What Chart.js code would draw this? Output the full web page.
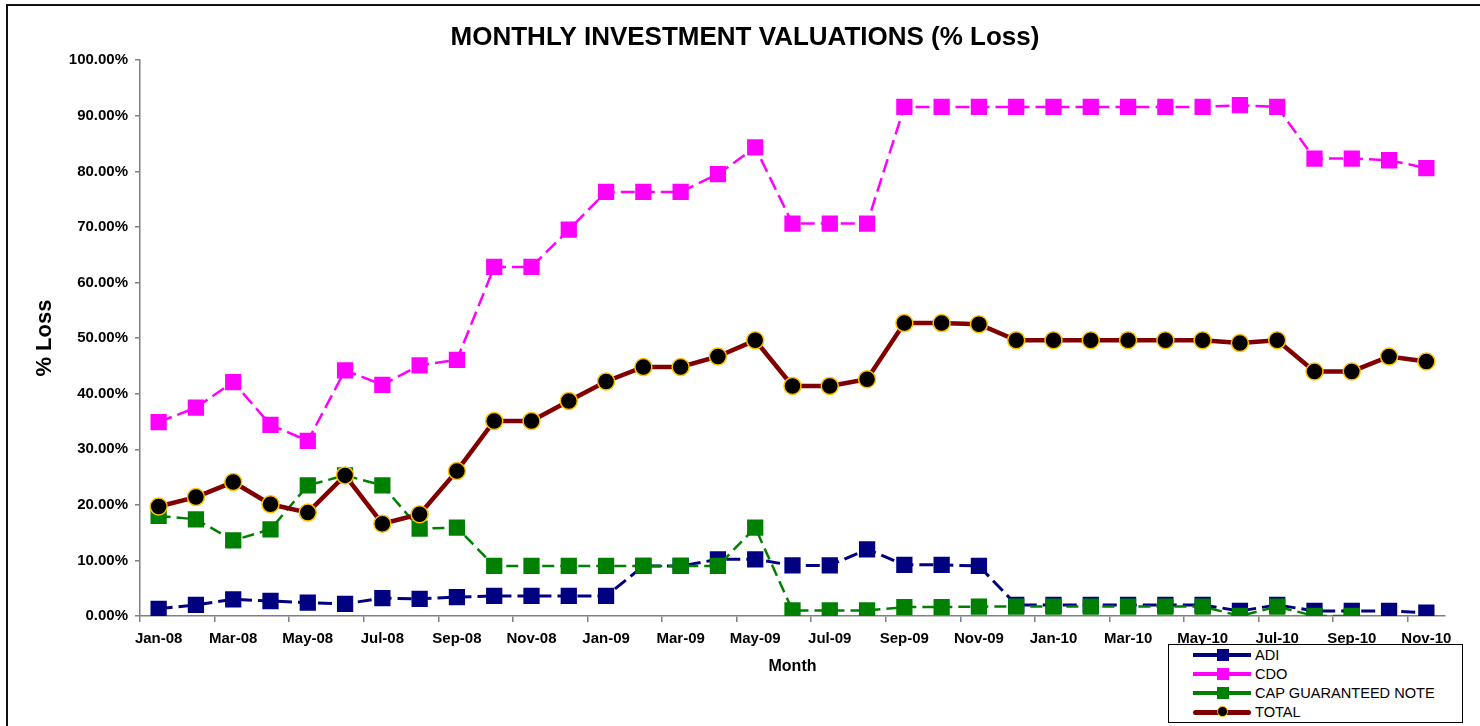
<!DOCTYPE html>
<html><head><meta charset="utf-8">
<script src="https://cdn.jsdelivr.net/npm/chart.js@4.4.0/dist/chart.umd.min.js"></script>
<style>
html,body{margin:0;padding:0;background:#fff;}
#wrap{position:relative;width:1480px;height:726px;overflow:hidden;background:#fff;}
#c{position:absolute;left:0;top:0;}
#frame{position:absolute;left:6px;top:4px;width:1500px;height:800px;border-left:2px solid #111;border-top:2px solid #111;pointer-events:none;}
#legend{position:absolute;left:1168px;top:644px;width:293px;height:77px;border:1px solid #000;background:#fff;font:14.6px "Liberation Sans",Arial,sans-serif;color:#000;}
.row{position:absolute;left:0;width:293px;height:19px;}
.ln{position:absolute;left:24px;width:58px;}
.mk{position:absolute;}
.tx{position:absolute;left:86px;top:1px;line-height:19px;white-space:nowrap;}
</style>
</head><body>
<div id="wrap">
<canvas id="c" width="1480" height="726"></canvas>
<div id="frame"></div>
<div id="legend"></div>
</div>
<script>
const months = ['Jan-08','Feb-08','Mar-08','Apr-08','May-08','Jun-08','Jul-08','Aug-08','Sep-08','Oct-08','Nov-08','Dec-08',
'Jan-09','Feb-09','Mar-09','Apr-09','May-09','Jun-09','Jul-09','Aug-09','Sep-09','Oct-09','Nov-09','Dec-09',
'Jan-10','Feb-10','Mar-10','Apr-10','May-10','Jun-10','Jul-10','Aug-10','Sep-10','Oct-10','Nov-10'];
const adi = [1.3,2.0,3.0,2.7,2.4,2.2,3.2,3.1,3.4,3.6,3.6,3.6,3.6,9.0,9.0,10.2,10.2,9.1,9.1,12.0,9.2,9.2,9.0,2.0,2.0,2.0,2.0,2.0,2.0,0.9,2.0,0.9,0.9,0.9,0.6];
const cdo = [34.9,37.5,42.1,34.4,31.5,44.2,41.6,45.1,46.1,62.8,62.8,69.5,76.3,76.3,76.3,79.5,84.3,70.6,70.6,70.6,91.6,91.6,91.6,91.6,91.6,91.6,91.6,91.6,91.6,91.9,91.6,82.3,82.3,82.0,80.6];
const capNote = [18.0,17.4,13.6,15.6,23.5,25.3,23.5,15.7,15.9,9.0,9.0,9.0,9.0,9.0,9.0,9.0,15.9,1.0,1.0,1.0,1.6,1.6,1.7,1.7,1.7,1.7,1.7,1.7,1.7,0,1.7,0,0,null,null];
const total = [19.7,21.4,24.1,20.1,18.6,25.3,16.6,18.3,26.1,35.1,35.1,38.7,42.2,44.8,44.8,46.7,49.6,41.4,41.4,42.6,52.7,52.7,52.5,49.6,49.6,49.6,49.6,49.6,49.6,49.1,49.6,44.0,44.0,46.7,45.8];
const seriesNames = ['ADI','CDO','CAP GUARANTEED NOTE','TOTAL'];
const yTicks = [0,10,20,30,40,50,60,70,80,90,100];

const FONT = '"Liberation Sans", Arial, sans-serif';
const NAVY='#000080', MAG='#FF00FF', GRN='#008000', MAROON='#800000', GOLD='#FFC000';

function sq(color, data, label, dash, width, order){
  return {label, data, borderColor:color, backgroundColor:color, borderWidth:width, borderDash:dash,
    pointStyle:'rect', pointRadius:11.5, pointHoverRadius:11.5, pointBackgroundColor:color,
    pointBorderColor:color, pointBorderWidth:0, tension:0, order, spanGaps:false};
}
const datasets = [
  sq(NAVY, adi, seriesNames[0], [14,6], 3, 2),
  sq(MAG, cdo, seriesNames[1], [14,6], 2.5, 3),
  sq(GRN, capNote, seriesNames[2], [12,6], 2.5, 1),
  {label:seriesNames[3], data:total, borderColor:MAROON, backgroundColor:'#000', borderWidth:4.5,
   pointStyle:'circle', pointRadius:8.5, pointHoverRadius:8.5, pointBackgroundColor:'#000',
   pointBorderColor:GOLD, pointBorderWidth:1.5, tension:0, order:0}
];

new Chart(document.getElementById('c'), {
  type:'line',
  data:{labels:months, datasets},
  options:{
    responsive:false, animation:false, devicePixelRatio:1,
    layout:{padding:{left:10,right:0,top:0,bottom:0}},
    plugins:{
      legend:{display:false}, tooltip:{enabled:false},
      title:{display:true, text:'MONTHLY INVESTMENT VALUATIONS (% Loss)', color:'#000',
        font:{family:FONT, size:26, weight:'bold', lineHeight:1.2}, padding:{top:22, bottom:7}}
    },
    scales:{
      x:{
        offset:true,
        grid:{offset:true, drawOnChartArea:false, drawTicks:true, tickLength:6,
          color:(ctx)=> (ctx.index!==undefined && ctx.index%2===0) ? '#808080' : 'rgba(0,0,0,0)', lineWidth:1.5},
        border:{display:true, color:'#808080', width:1.5},
        ticks:{autoSkip:false, maxRotation:0, minRotation:0, color:'#000', padding:8,
          font:{family:FONT, size:15, weight:'bold'},
          callback:function(v,i){ return i%2===0 ? this.getLabelForValue(v) : ''; }},
        title:{display:true, text:'Month', color:'#000', font:{family:FONT, size:16, weight:'bold', lineHeight:1.2}, padding:{top:4,bottom:50}},
        afterFit:(s)=>{ s.height = 110; }
      },
      y:{
        min:0, max:100,
        afterBuildTicks:(s)=>{ s.ticks = yTicks.map(v=>({value:v})); },
        grid:{drawOnChartArea:false, drawTicks:true, tickLength:5, color:'#808080', lineWidth:1.5},
        border:{display:true, color:'#808080', width:1.5},
        ticks:{color:'#000', padding:7, font:{family:FONT, size:15, weight:'bold'},
          callback:(v)=> v.toFixed(2)+'%'},
        title:{display:true, text:'% Loss', color:'#000', font:{family:FONT, size:22, weight:'bold', lineHeight:1.2}, padding:{top:22,bottom:0}},
        afterFit:(s)=>{ s.width = 130; }
      },
      yR:{
        position:'right', display:true, min:0, max:100,
        grid:{display:false, drawTicks:false}, border:{display:false},
        ticks:{display:false}, afterFit:(s)=>{ s.width = 35; }
      }
    }
  }
});

// HTML legend
const legend = document.getElementById('legend');
const legendStyles = [
  {c:NAVY, lw:4, m:'sq'}, {c:MAG, lw:4, m:'sq'}, {c:GRN, lw:4, m:'sq'}, {c:MAROON, lw:5, m:'ci'}
];
seriesNames.forEach((name,i)=>{
  const st = legendStyles[i];
  const row = document.createElement('div'); row.className='row'; row.style.top = (i*19)+'px';
  const ln = document.createElement('div'); ln.className='ln';
  ln.style.height = st.lw+'px'; ln.style.top = (10 - st.lw/2)+'px'; ln.style.background = st.c;
  if (st.m==='ci') ln.style.borderRadius = '3px';
  const mk = document.createElement('div'); mk.className='mk';
  if (st.m==='sq'){ mk.style.cssText += `left:48px;top:4px;width:12px;height:12px;background:${st.c};`; }
  else { mk.style.cssText += `left:48px;top:4px;width:9px;height:9px;border-radius:50%;background:#000;border:1.5px solid ${GOLD};`; }
  const tx = document.createElement('div'); tx.className='tx'; tx.textContent = name;
  row.appendChild(ln); row.appendChild(mk); row.appendChild(tx); legend.appendChild(row);
});
</script>
</body></html>
